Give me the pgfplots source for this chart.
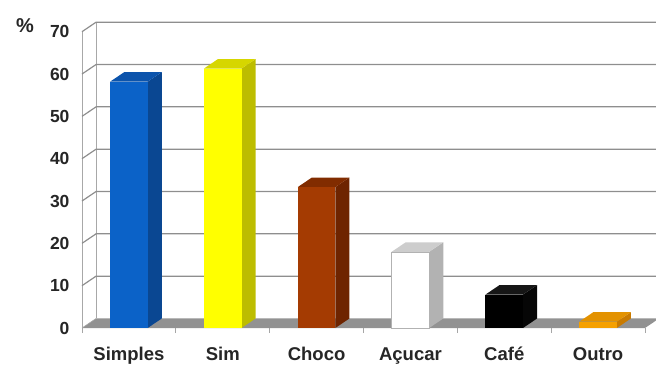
\documentclass[border=0pt]{standalone}
\usepackage{pgfplots}
\pgfplotsset{compat=1.18}
\usepackage{fontspec}
\setmainfont{Liberation Sans}

% face colours: front, side, top
\definecolor{simpF}{HTML}{0B62C8}
\definecolor{simpS}{HTML}{0A4792}
\definecolor{simpT}{HTML}{0C54AC}
\definecolor{simF}{HTML}{FFFF00}
\definecolor{simS}{HTML}{BDBD00}
\definecolor{simT}{HTML}{D6D600}
\definecolor{chocF}{HTML}{A43B02}
\definecolor{chocS}{HTML}{6E2400}
\definecolor{chocT}{HTML}{812C00}
\definecolor{acuF}{HTML}{FFFFFF}
\definecolor{acuS}{HTML}{B2B2B2}
\definecolor{acuT}{HTML}{CDCDCD}
\definecolor{cafF}{HTML}{000000}
\definecolor{cafS}{HTML}{060606}
\definecolor{cafT}{HTML}{161616}
\definecolor{outF}{HTML}{F5A000}
\definecolor{outS}{HTML}{C97A00}
\definecolor{outT}{HTML}{E39200}
\definecolor{floorgray}{HTML}{929292}
\definecolor{gridgray}{HTML}{8E8E8E}
\definecolor{wallgray}{HTML}{A8A8A8}

% depth of the 3D effect in data units
\newcommand\dx{0.15}
\newcommand\dy{2.25}

% one column: position, value, front, side, top, front outline
\newcommand\prism[6]{%
  \pgfmathsetmacro\xl{#1-0.2}%
  \pgfmathsetmacro\xr{#1+0.2}%
  \pgfmathsetmacro\xlb{#1-0.2+\dx}%
  \pgfmathsetmacro\xrb{#1+0.2+\dx}%
  \pgfmathsetmacro\vt{#2+\dy}%
  \addplot[fill=#4, draw=none] coordinates {(\xr,0) (\xrb,\dy) (\xrb,\vt) (\xr,#2)} -- cycle;
  \addplot[fill=#5, draw=none] coordinates {(\xl,#2) (\xr,#2) (\xrb,\vt) (\xlb,\vt)} -- cycle;
  \addplot[fill=#3, draw=#6, line width=0.5pt] coordinates {(\xl,0) (\xr,0) (\xr,#2) (\xl,#2)} -- cycle;
}

\begin{document}
\begin{tikzpicture}
\path[use as bounding box] (0,0) rectangle (656pt,365pt);
\begin{axis}[
  at={(82pt,37pt)}, anchor=south west,
  scale only axis, width=563pt, height=296.3pt,
  xmin=-0.5, xmax=5.5, ymin=0, ymax=70,
  clip=false,
  axis line style={draw=none},
  xtick={0,...,5},
  xticklabels={Simples,Sim,Choco,Açucar,Café,Outro},
  minor xtick={-0.5,0.5,...,5.5},
  ytick={0,10,...,70},
  major tick length=0pt,
  minor tick length=5pt,
  tick align=outside,
  xtick pos=bottom, ytick pos=left,
  minor x tick style={black!35, line width=0.8pt},
  tick label style={font=\fontsize{17.5}{19}\selectfont\bfseries, text=black!85},
  xticklabel style={font=\fontsize{18.5}{20}\selectfont\bfseries, anchor=base, yshift=-32pt},
  yticklabel style={xshift=-9pt},
  /pgf/number format/assume math mode=true,
]
% walls
\addplot[draw=wallgray, line width=0.6pt] coordinates {(-0.5,0) (-0.5,70)};
\addplot[draw=wallgray, line width=0.6pt] coordinates {(-0.35,2.25) (-0.35,72.25)};
% grid lines running over the left wall and along the back wall
\pgfplotsinvokeforeach{10,20,...,70}{
  \pgfmathsetmacro\yb{#1+\dy}
  \addplot[draw=gridgray, line width=1.2pt] coordinates {(-0.5,#1) (-0.35,\yb) (5.65,\yb)};
}
% floor
\addplot[fill=floorgray, draw=none] coordinates {(-0.5,0) (5.5,0) (5.65,2.25) (-0.35,2.25)} -- cycle;
\addplot[draw=wallgray, line width=0.6pt] coordinates {(-0.5,0) (-0.35,2.25)};

% columns
\prism{0}{58.2}{simpF}{simpS}{simpT}{none}
\prism{1}{61.3}{simF}{simS}{simT}{none}
\prism{2}{33.3}{chocF}{chocS}{chocT}{none}
\prism{3}{18.0}{acuF}{acuS}{acuT}{black!30}
\prism{4}{7.9}{cafF}{cafS}{cafT}{none}
\prism{5}{1.5}{outF}{outS}{outT}{none}

\node[font=\fontsize{20}{22}\selectfont\bfseries, text=black!85] at (axis cs:-0.5,70) [xshift=-57pt, yshift=6pt] {\%};
\end{axis}
\end{tikzpicture}
\end{document}
